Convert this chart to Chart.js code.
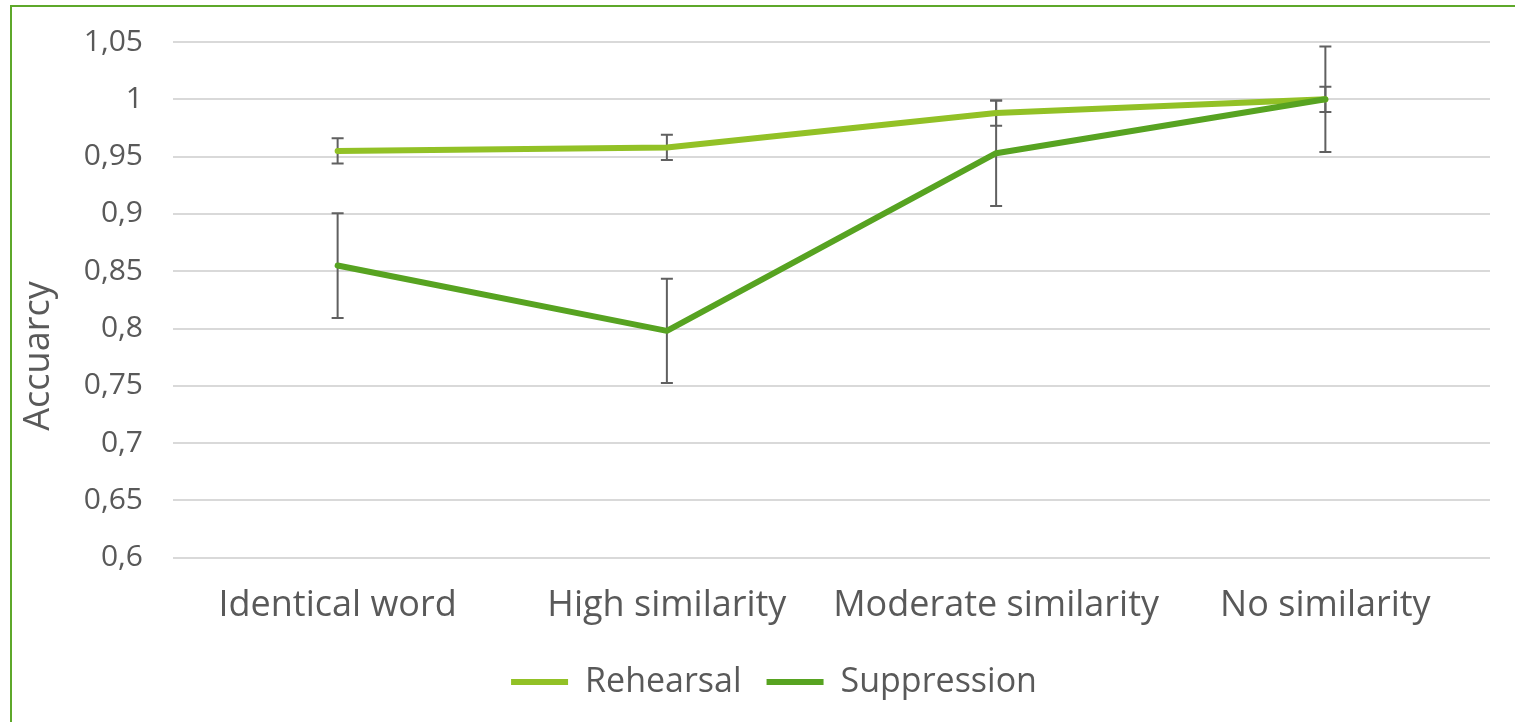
<!DOCTYPE html>
<html>
<head>
<meta charset="utf-8">
<script src="https://cdn.jsdelivr.net/npm/chart.js@4"></script>
<style>
  html, body { margin: 0; padding: 0; background: #fff; }
  #wrap { position: relative; width: 1515px; height: 722px; overflow: hidden; }
  #frame {
    position: absolute; left: 10px; top: 5px; width: 1600px; height: 800px;
    border-left: 2px solid #5ea82a; border-top: 2px solid #5ea82a;
  }
  #chart { position: absolute; left: 0; top: 0; }
</style>
</head>
<body>
<div id="wrap">
  <div id="frame"></div>
  <canvas id="chart" width="1515" height="722"></canvas>
</div>
<script>
// ---- data ----
const categories = ["Identical word", "High similarity", "Moderate similarity", "No similarity"];
const rehearsal = [0.955, 0.958, 0.988, 1.0];
const rehearsalErr = [0.011, 0.011, 0.011, 0.011];
const suppression = [0.855, 0.798, 0.953, 1.0];
const suppressionErr = [0.0457, 0.0455, 0.046, 0.046];
const yTicks = [0.6, 0.65, 0.7, 0.75, 0.8, 0.85, 0.9, 0.95, 1, 1.05];

const textColor = "#595959";
const fontFamily = "'Open Sans', 'Liberation Sans', sans-serif";

// error bars, drawn under the lines
const errorBars = {
  id: "errorBars",
  beforeDatasetsDraw(chart) {
    const ctx = chart.ctx;
    const x = chart.scales.x;
    const y = chart.scales.y;
    const sets = [[rehearsal, rehearsalErr], [suppression, suppressionErr]];
    ctx.save();
    ctx.strokeStyle = "#606060";
    ctx.lineWidth = 2;
    sets.forEach(([vals, errs]) => {
      vals.forEach((v, i) => {
        const px = x.getPixelForValue(i);
        const top = y.getPixelForValue(v + errs[i]);
        const bot = y.getPixelForValue(v - errs[i]);
        ctx.beginPath();
        ctx.moveTo(px, top); ctx.lineTo(px, bot);
        ctx.moveTo(px - 6, top); ctx.lineTo(px + 6, top);
        ctx.moveTo(px - 6, bot); ctx.lineTo(px + 6, bot);
        ctx.stroke();
      });
    });
    ctx.restore();
  }
};

// y axis title, placed like the original (centred on the whole frame)
const yTitle = {
  id: "yTitle",
  afterDraw(chart) {
    const ctx = chart.ctx;
    ctx.save();
    ctx.translate(39, 356);
    ctx.rotate(-Math.PI / 2);
    ctx.fillStyle = textColor;
    ctx.font = "36px " + fontFamily;
    ctx.textAlign = "center";
    ctx.textBaseline = "middle";
    ctx.fillText("Accuarcy", 0, 0);
    ctx.restore();
  }
};

const ctx = document.getElementById("chart").getContext("2d");
new Chart(ctx, {
  type: "line",
  data: {
    labels: categories,
    datasets: [
      {
        label: "Rehearsal",
        data: rehearsal,
        borderColor: "#92c126",
        backgroundColor: "#92c126",
        borderWidth: 6,
        pointRadius: 0,
        borderCapStyle: "round",
        borderJoinStyle: "round",
        order: 1
      },
      {
        label: "Suppression",
        data: suppression,
        borderColor: "#57a321",
        backgroundColor: "#57a321",
        borderWidth: 6,
        pointRadius: 0,
        borderCapStyle: "round",
        borderJoinStyle: "round",
        order: 0
      }
    ]
  },
  options: {
    responsive: false,
    animation: false,
    layout: { padding: { top: 42, right: 25, bottom: 13, left: 58 } },
    scales: {
      x: {
        offset: true,
        afterFit(scale) { scale.height -= 13; },
        grid: { display: false, drawTicks: false },
        border: { display: false },
        ticks: {
          color: textColor,
          font: { family: fontFamily, size: 36 },
          padding: 26,
          maxRotation: 0
        }
      },
      y: {
        min: 0.6,
        max: 1.05,
        afterFit(scale) {
          scale.width = 115;
          scale.paddingTop = 0;
          scale.paddingBottom = 0;
        },
        afterBuildTicks(scale) { scale.ticks = yTicks.map(v => ({ value: v })); },
        grid: { color: "#d9d9d9", lineWidth: 2, drawTicks: false },
        border: { display: false },
        ticks: {
          color: textColor,
          font: { family: fontFamily, size: 30 },
          padding: 30,
          callback: v => String(Number(v.toFixed(2))).replace(".", ",")
        }
      }
    },
    plugins: {
      legend: {
        position: "bottom",
        labels: {
          color: textColor,
          font: { family: fontFamily, size: 34 },
          usePointStyle: true,
          pointStyle: "line",
          pointStyleWidth: 57,
          padding: 25,
          sort: (a, b) => a.datasetIndex - b.datasetIndex
        }
      },
      tooltip: { enabled: false }
    }
  },
  plugins: [errorBars, yTitle]
});
</script>
</body>
</html>
